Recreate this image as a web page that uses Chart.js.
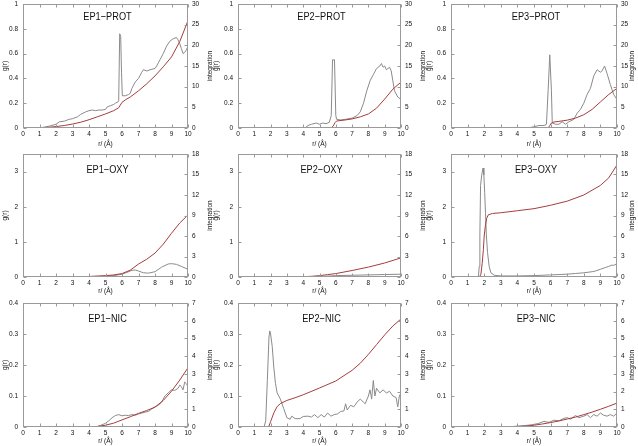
<!DOCTYPE html>
<html><head><meta charset="utf-8">
<script src="https://cdn.jsdelivr.net/npm/chart.js@4.4.1/dist/chart.umd.min.js"></script>
<style>
html,body{margin:0;padding:0;background:#fff;}
body{width:638px;height:446px;position:relative;overflow:hidden;}
canvas{position:absolute;}
</style></head><body>
<script>
// ---------- data (r in Å) ----------
const xTicks = [0,1,2,3,4,5,6,7,8,9,10];
const rowNames = ['PROT','OXY','NIC'];
const colNames = ['EP1','EP2','EP3'];
const gMax = [1, 3.5, 0.4];
const gStep = [0.2, 1, 0.1];
const nMax = [30, 18, 7];
const nStep = [5, 3, 1];

// g(r) and running integration for each panel, [r, value]
const ep1ProtG = [[0,0],[0.8,0],[1.2,0.005],[1.6,0.015],[2.0,0.03],[2.2,0.05],[2.5,0.055],[2.8,0.07],[3.0,0.075],[3.3,0.09],[3.5,0.11],[3.8,0.13],[4.0,0.14],[4.2,0.145],[4.4,0.14],[4.6,0.145],[4.8,0.145],[5.0,0.15],[5.1,0.17],[5.3,0.18],[5.5,0.19],[5.6,0.2],[5.75,0.21],[5.8,0.22],[5.86,0.76],[5.92,0.74],[5.97,0.45],[6.02,0.26],[6.2,0.26],[6.4,0.27],[6.5,0.28],[6.6,0.32],[6.8,0.37],[7.0,0.4],[7.2,0.45],[7.3,0.47],[7.5,0.46],[7.7,0.47],[8.0,0.48],[8.1,0.5],[8.3,0.55],[8.5,0.6],[8.7,0.66],[8.9,0.7],[9.1,0.72],[9.3,0.73],[9.4,0.71],[9.5,0.68],[9.6,0.64],[9.7,0.6],[9.8,0.61],[9.9,0.63],[10,0.66]];
const ep1ProtN = [[0,0],[1,0.05],[1.5,0.15],[2,0.35],[2.5,0.6],[3,0.95],[3.5,1.4],[4,2.0],[4.5,2.7],[5,3.4],[5.5,4.2],[5.8,4.9],[6.0,6.2],[6.2,6.8],[6.5,7.5],[7,9.0],[7.5,10.7],[8,12.6],[8.5,14.8],[9,17.2],[9.5,20.9],[10,26]];
const ep2ProtG = [[0,0],[4.1,0],[4.3,0.02],[4.5,0.03],[4.8,0.04],[5.0,0.03],[5.2,0.04],[5.4,0.035],[5.6,0.045],[5.72,0.1],[5.8,0.55],[5.92,0.55],[6.0,0.1],[6.05,0.07],[6.3,0.065],[6.6,0.07],[7.0,0.08],[7.3,0.1],[7.5,0.13],[7.7,0.2],[7.9,0.3],[8.1,0.38],[8.3,0.43],[8.5,0.48],[8.7,0.5],[8.8,0.52],[8.9,0.49],[9.0,0.5],[9.1,0.47],[9.3,0.49],[9.4,0.46],[9.5,0.38],[9.6,0.3],[9.8,0.25],[10,0.23]];
const ep2ProtN = [[0,0],[5.7,0],[5.85,0.5],[5.95,1.3],[6.05,1.7],[6.5,1.9],[7,2.2],[7.5,2.7],[8,3.4],[8.5,4.8],[9,7.0],[9.5,9.4],[10,11.1]];
const ep3ProtG = [[0,0],[4.5,0],[4.8,0.005],[5.0,0.01],[5.3,0.02],[5.6,0.02],[5.75,0.03],[5.85,0.3],[5.95,0.59],[6.05,0.3],[6.1,0.04],[6.3,0.03],[6.5,0.03],[6.7,0.05],[6.9,0.03],[7.1,0.05],[7.4,0.07],[7.6,0.12],[7.8,0.15],[8.0,0.2],[8.2,0.27],[8.4,0.32],[8.6,0.42],[8.8,0.47],[9.0,0.45],[9.1,0.46],[9.25,0.5],[9.4,0.44],[9.6,0.35],[9.8,0.27],[10,0.23]];
const ep3ProtN = [[0,0],[5.85,0],[5.95,0.6],[6.05,1.2],[6.2,1.45],[6.5,1.6],[7,1.9],[7.5,2.4],[8,3.2],[8.5,4.5],[9,6.3],[9.5,8.1],[10,9.6]];

const ep1OxyG = [[0,0],[4,0],[4.5,0.005],[5,0.02],[5.5,0.04],[6,0.08],[6.3,0.13],[6.6,0.19],[6.8,0.2],[7,0.17],[7.3,0.12],[7.6,0.11],[8,0.15],[8.4,0.28],[8.8,0.37],[9,0.38],[9.3,0.36],[9.6,0.3],[10,0.22]];
const ep1OxyN = [[0,0],[3,0.02],[4,0.08],[5,0.2],[5.5,0.3],[6,0.5],[6.5,1.0],[7,1.9],[7.5,2.6],[8,3.5],[8.5,4.8],[9,6.4],[9.5,7.9],[10,9.1]];
const ep2OxyG = [[0,0],[4,0],[5,0.01],[5.5,0.025],[6,0.04],[7,0.05],[8,0.06],[9,0.07],[10,0.08]];
const ep2OxyN = [[0,0],[3,0.01],[4,0.05],[4.5,0.1],[5,0.2],[5.5,0.35],[6,0.5],[7,0.95],[8,1.45],[9,2.05],[10,2.8]];
const ep3OxyG = [[0,0],[1.65,0],[1.7,0.3],[1.74,1.2],[1.78,2.6],[1.85,2.9],[1.93,3.1],[1.98,2.9],[2.03,2.4],[2.08,1.8],[2.13,1.2],[2.2,0.7],[2.3,0.3],[2.4,0.12],[2.6,0.05],[3,0.03],[4,0.03],[5,0.04],[6,0.06],[7,0.08],[7.5,0.1],[8,0.12],[8.5,0.15],[8.7,0.17],[9,0.22],[9.3,0.27],[9.5,0.3],[9.7,0.34],[9.8,0.33],[10,0.38]];
const ep3OxyN = [[0,0],[1.72,0],[1.8,0.4],[1.88,2.0],[1.95,4.0],[2.0,6.0],[2.07,7.5],[2.15,8.6],[2.25,9.1],[2.5,9.3],[3,9.4],[4,9.7],[5,10.0],[6,10.5],[7,11.1],[8,12.0],[9,13.4],[9.5,14.5],[10,16.4]];

const ep1NicG = [[0,0],[4.4,0],[4.7,0.005],[5.0,0.012],[5.2,0.02],[5.4,0.03],[5.6,0.037],[5.8,0.04],[6.0,0.036],[6.2,0.038],[6.4,0.037],[6.6,0.04],[6.8,0.038],[7.0,0.042],[7.2,0.045],[7.4,0.048],[7.6,0.05],[7.8,0.058],[8.0,0.065],[8.2,0.07],[8.4,0.08],[8.6,0.1],[8.8,0.11],[9.0,0.12],[9.2,0.118],[9.4,0.125],[9.5,0.135],[9.6,0.13],[9.7,0.12],[9.8,0.145],[9.9,0.14],[10,0.13]];
const ep1NicN = [[0,0],[4,0],[4.5,0.03],[5,0.1],[5.5,0.22],[6,0.4],[6.5,0.58],[7,0.77],[7.5,0.93],[8,1.12],[8.5,1.5],[9,2.02],[9.5,2.65],[10,3.35]];
const ep2NicG = [[0,0],[1.6,0],[1.7,0.02],[1.8,0.15],[1.9,0.29],[1.95,0.31],[2.0,0.3],[2.1,0.26],[2.2,0.19],[2.3,0.14],[2.4,0.11],[2.6,0.09],[2.8,0.06],[3.0,0.03],[3.2,0.025],[3.3,0.035],[3.5,0.027],[3.8,0.027],[4.0,0.034],[4.3,0.035],[4.5,0.032],[4.7,0.04],[4.9,0.03],[5.1,0.04],[5.3,0.032],[5.5,0.045],[5.7,0.035],[5.9,0.04],[6.1,0.042],[6.3,0.05],[6.5,0.052],[6.6,0.075],[6.7,0.055],[6.9,0.07],[7.1,0.065],[7.3,0.08],[7.5,0.09],[7.7,0.08],[7.8,0.075],[8.0,0.1],[8.1,0.12],[8.2,0.09],[8.3,0.15],[8.4,0.1],[8.5,0.125],[8.7,0.11],[8.9,0.12],[9.1,0.11],[9.3,0.115],[9.5,0.1],[9.7,0.095],[9.8,0.065],[9.9,0.1],[10,0.11]];
const ep2NicN = [[0,0],[1.8,0],[1.9,0.05],[2.0,0.3],[2.1,0.55],[2.2,0.8],[2.4,1.15],[2.6,1.32],[3,1.5],[3.5,1.65],[4,1.82],[5,2.2],[6,2.6],[7,3.2],[7.5,3.6],[8,4.1],[8.5,4.65],[9,5.2],[9.5,5.7],[10,6.1]];
const ep3NicG = [[0,0],[3.4,0],[4,0.003],[4.5,0.005],[5,0.008],[5.3,0.012],[5.6,0.018],[5.9,0.015],[6.2,0.022],[6.5,0.02],[6.8,0.028],[7.0,0.03],[7.2,0.025],[7.5,0.037],[7.7,0.03],[8.0,0.035],[8.2,0.04],[8.4,0.03],[8.6,0.04],[8.8,0.035],[9.0,0.045],[9.2,0.038],[9.4,0.035],[9.6,0.04],[9.8,0.035],[10,0.045]];
const ep3NicN = [[0,0],[3.5,0],[4,0.02],[4.5,0.05],[5,0.1],[5.5,0.17],[6,0.25],[6.5,0.34],[7,0.45],[7.5,0.56],[8,0.7],[8.5,0.84],[9,1.0],[9.5,1.17],[10,1.35]];

const gSeries = [[ep1ProtG,ep2ProtG,ep3ProtG],[ep1OxyG,ep2OxyG,ep3OxyG],[ep1NicG,ep2NicG,ep3NicG]];
const nSeries = [[ep1ProtN,ep2ProtN,ep3ProtN],[ep1OxyN,ep2OxyN,ep3OxyN],[ep1NicN,ep2NicN,ep3NicN]];

// ---------- layout ----------
const FONT = "'Liberation Sans', Arial, sans-serif";
const GRAY = '#8a8a8a', RED = '#a63c3c', FRAME = '#9a9a9a', TXT = '#111';
const PADTOP = 10;
// columns: canvas left, width, left scale width, right scale width, left title pad, right title x (canvas)
const cols = [
  {x:0,   w:216, lw:23, rw:28, lpad:1, rtx:210},
  {x:211, w:216, lw:27, rw:26, lpad:1, rtx:212},
  {x:423, w:215, lw:28, rw:21, lpad:2, rtx:209}
];
// rows: canvas top, height, x-scale height, title offset
const rows = [
  {y:-6,  h:155, xh:21, tdy:13},
  {y:144, h:152, xh:19, tdy:16},
  {y:293, h:153, xh:19, tdy:16}
];

const fmt = v => String(+(+v).toFixed(3));

const decor = {
  id: 'decor',
  afterDraw(chart, args, o) {
    const {ctx, chartArea: a, scales} = chart;
    const L = Math.round(a.left)+0.5, R = Math.round(a.right)-0.5, T = Math.round(a.top)+0.5, B = Math.round(a.bottom)-0.5;
    ctx.save();
    ctx.strokeStyle = FRAME; ctx.lineWidth = 1;
    ctx.strokeRect(L, T, R-L, B-T);
    const tl = 3;
    ctx.beginPath();
    scales.x.ticks.forEach(t => {
      const p = Math.round(scales.x.getPixelForValue(t.value))+0.5;
      ctx.moveTo(p, B); ctx.lineTo(p, B-tl);
      ctx.moveTo(p, T); ctx.lineTo(p, T+tl);
    });
    scales.y.ticks.forEach(t => {
      const p = Math.round(scales.y.getPixelForValue(t.value))+0.5;
      ctx.moveTo(L, p); ctx.lineTo(L+tl, p);
    });
    scales.y2.ticks.forEach(t => {
      const p = Math.round(scales.y2.getPixelForValue(t.value))+0.5;
      ctx.moveTo(R, p); ctx.lineTo(R-tl, p);
    });
    ctx.stroke();
    ctx.fillStyle = TXT;
    ctx.textAlign = 'center'; ctx.textBaseline = 'middle';
    // panel title inside the plot (narrow face: compressed horizontally)
    ctx.save();
    ctx.translate((a.left + a.right)/2 + 2, a.top + o.tdy);
    ctx.scale(0.8, 1);
    ctx.font = '11.5px ' + FONT;
    ctx.fillText(o.title, 0, 0);
    ctx.restore();
    // right-axis label
    ctx.font = '6.5px ' + FONT;
    ctx.translate(o.rtx, (a.top + a.bottom)/2);
    ctx.rotate(-Math.PI/2);
    ctx.fillText('integration', 0, 0);
    ctx.restore();
  }
};

for (let r = 0; r < 3; r++) {
  for (let c = 0; c < 3; c++) {
    const col = cols[c], row = rows[r];
    const cv = document.createElement('canvas');
    cv.width = col.w; cv.height = row.h;
    cv.style.left = col.x + 'px'; cv.style.top = row.y + 'px';
    cv.style.width = col.w + 'px'; cv.style.height = row.h + 'px';
    document.body.appendChild(cv);
    const tickFont = {size: 6.5, family: FONT};
    new Chart(cv, {
      type: 'line',
      data: {
        datasets: [
          {data: nSeries[r][c], yAxisID: 'y2', borderColor: RED, borderWidth: 1, pointRadius: 0, tension: 0, fill: false, order: 0},
          {data: gSeries[r][c], yAxisID: 'y', borderColor: GRAY, borderWidth: 1, pointRadius: 0, tension: 0, fill: false, order: 1}
        ]
      },
      options: {
        responsive: false, animation: false, events: [],
        devicePixelRatio: 1,
        layout: {padding: {top: PADTOP, left: 0, right: 0, bottom: 0}},
        plugins: {
          legend: {display: false}, tooltip: {enabled: false},
          decor: {title: colNames[c] + '\u2212' + rowNames[r], tdy: row.tdy, rtx: col.rtx}
        },
        scales: {
          x: {
            type: 'linear', position: 'bottom', min: 0, max: 10,
            afterBuildTicks: s => { s.ticks = xTicks.map(v => ({value: v})); },
            ticks: {font: tickFont, color: TXT, padding: 2, maxRotation: 0, autoSkip: false, callback: fmt},
            grid: {display: false, drawTicks: false}, border: {display: false},
            title: {display: true, text: 'r/ (Å)', font: tickFont, color: TXT, padding: {top: 0, bottom: 1}},
            afterFit: s => { s.height = row.xh; }
          },
          y: {
            type: 'linear', position: 'left', min: 0, max: gMax[r],
            ticks: {stepSize: gStep[r], includeBounds: false, font: tickFont, color: TXT, padding: 5, callback: fmt},
            grid: {display: false, drawTicks: false}, border: {display: false},
            title: {display: true, text: 'g(r)', font: tickFont, color: TXT, padding: {top: col.lpad, bottom: 0}},
            afterFit: s => { s.width = col.lw; }
          },
          y2: {
            type: 'linear', position: 'right', min: 0, max: nMax[r],
            ticks: {stepSize: nStep[r], includeBounds: false, font: tickFont, color: TXT, padding: 4, callback: fmt},
            grid: {display: false, drawTicks: false}, border: {display: false},
            afterFit: s => { s.width = col.rw; }
          }
        }
      },
      plugins: [decor]
    });
  }
}
</script>
</body></html>
